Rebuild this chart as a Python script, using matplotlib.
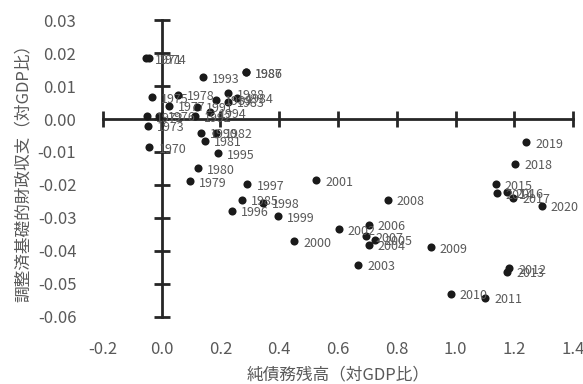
import matplotlib
matplotlib.use("Agg")
import matplotlib.pyplot as plt

plt.rcParams['font.family'] = ['Noto Sans CJK JP', 'DejaVu Sans']

years = list(range(1970, 2021))
net_debt = [-0.041, -0.053, -0.050, -0.045, -0.041, -0.033, -0.008, 0.025, 0.057, 0.097,
            0.123, 0.148, 0.185, 0.227, 0.256, 0.273, 0.286, 0.288, 0.227, 0.184,
            0.133, 0.120, 0.113, 0.140, 0.166, 0.192, 0.239, 0.292, 0.346, 0.395,
            0.452, 0.525, 0.602, 0.668, 0.705, 0.727, 0.705, 0.696, 0.769, 0.915,
            0.983, 1.100, 1.183, 1.176, 1.140, 1.136, 1.174, 1.196, 1.202, 1.239,
            1.293]
primary_balance = [-0.0086, 0.0185, 0.0008, -0.0020, 0.0185, 0.0066, 0.0010, 0.0040, 0.0073, -0.0189,
                   -0.0149, -0.0066, -0.0042, 0.0052, 0.0064, -0.0244, 0.0141, 0.0142, 0.0079, 0.0059,
                   -0.0042, 0.0037, 0.0008, 0.0126, 0.0020, -0.0104, -0.0278, -0.0197, -0.0254, -0.0295,
                   -0.0371, -0.0185, -0.0334, -0.0442, -0.0381, -0.0366, -0.0320, -0.0355, -0.0245, -0.0389,
                   -0.0530, -0.0541, -0.0452, -0.0463, -0.0225, -0.0197, -0.0222, -0.0238, -0.0136, -0.0070,
                   -0.0263]

x_ticks = [-0.2, 0.0, 0.2, 0.4, 0.6, 0.8, 1.0, 1.2, 1.4]
x_tick_labels = ['-0.2', '0.0', '0.2', '0.4', '0.6', '0.8', '1.0', '1.2', '1.4']
y_ticks = [0.03, 0.02, 0.01, 0.00, -0.01, -0.02, -0.03, -0.04, -0.05, -0.06]
y_tick_labels = ['0.03', '0.02', '0.01', '0.00', '-0.01', '-0.02', '-0.03', '-0.04', '-0.05', '-0.06']
x_title = '純債務残高（対GDP比）'
y_title = '調整済基礎的財政収支（対GDP比）'

gray = '#595959'
axis_color = '#262626'

fig = plt.figure(figsize=(5.83, 3.84), dpi=100)
pos = [0.1762, 0.1745, 0.8072, 0.7734]

# Overlay axes that carries the tick labels and titles at the plot edges
ax2 = fig.add_axes(pos, frameon=False)
ax2.set_xlim(-0.2, 1.4)
ax2.set_ylim(-0.06, 0.03)
ax2.set_xticks(x_ticks)
ax2.set_xticklabels(x_tick_labels)
ax2.set_yticks(y_ticks)
ax2.set_yticklabels(y_tick_labels)
ax2.tick_params(length=0, labelsize=12, labelcolor=gray)
ax2.tick_params(axis='x', pad=17)
ax2.tick_params(axis='y', pad=19)
ax2.set_xlabel(x_title, fontsize=12, color=gray, labelpad=6)
ax2.set_ylabel(y_title, fontsize=12, color=gray, labelpad=4)

# Main axes with spines crossing at the origin
ax = fig.add_axes(pos, sharex=ax2, sharey=ax2)
ax.patch.set_alpha(0)
ax.spines['top'].set_visible(False)
ax.spines['right'].set_visible(False)
ax.spines['left'].set_position(('data', 0))
ax.spines['bottom'].set_position(('data', 0))
for s in ('left', 'bottom'):
    ax.spines[s].set_linewidth(2)
    ax.spines[s].set_color(axis_color)
ax.tick_params(direction='inout', length=11, width=2, color=axis_color,
               labelleft=False, labelbottom=False)

ax.scatter(net_debt, primary_balance, s=34, color='#1a1a1a', zorder=3, linewidths=0)
for yr, xv, yv in zip(years, net_debt, primary_balance):
    ax.annotate(str(yr), (xv, yv), xytext=(6.5, -1.5), textcoords='offset points',
                ha='left', va='center', fontsize=9, color=gray, zorder=4)

fig.savefig('out.png', dpi=100)
